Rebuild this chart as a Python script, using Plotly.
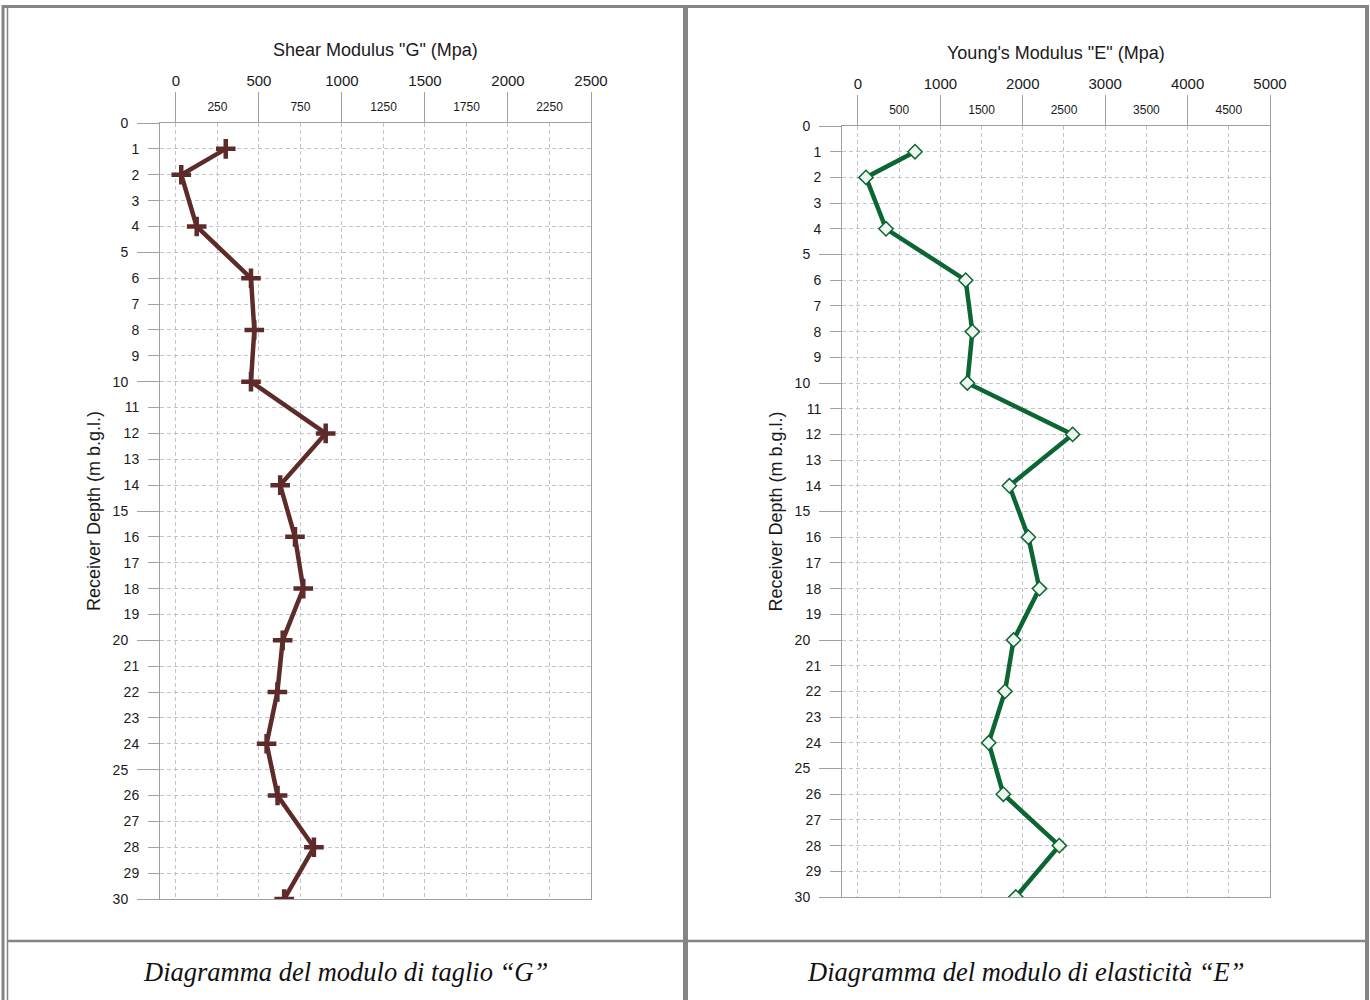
import plotly.graph_objects as go

# Receiver depths (m below ground level) and the moduli measured at each one
depth = [1, 2, 4, 6, 8, 10, 12, 14, 16, 18, 20, 22, 24, 26, 28, 30]
shear_G = [300, 32, 125, 452, 472, 452, 902, 628, 717, 767, 643, 611, 546, 612, 831, 652]
young_E = [692, 97, 340, 1307, 1388, 1327, 2605, 1837, 2068, 2202, 1888, 1784, 1586, 1764, 2443, 1915]

# Tick sets
g_major = [0, 500, 1000, 1500, 2000, 2500]
g_minor = [250, 750, 1250, 1750, 2250]
e_major = [0, 1000, 2000, 3000, 4000, 5000]
e_minor = [500, 1500, 2500, 3500, 4500]
depth_all = list(range(0, 31))
depth_five = [d for d in depth_all if d % 5 == 0]
depth_rest = [d for d in depth_all if d % 5 != 0]

titles = ['Shear Modulus "G" (Mpa)', 'Young\'s Modulus "E" (Mpa)']
captions = ["Diagramma del modulo di taglio “G”", "Diagramma del modulo di elasticità “E”"]
y_title = "Receiver Depth (m b.g.l.)"

W, H = 1370, 1000
FONT = "Liberation Sans, Arial, sans-serif"
SERIF = "Liberation Serif, Times New Roman, serif"
TXT = "#1a1a1a"
AXC = "#a0a0a0"
GRID = "#c4c4c4"
BROWN = "#5e2b2b"
GREEN = "#0c6634"
BORDER = "#858585"


def px(x):
    return x / W


def py(y):
    return 1 - y / H


fig = go.Figure()

fig.add_trace(go.Scatter(
    x=shear_G, y=depth, xaxis="x", yaxis="y", mode="lines+markers",
    line=dict(color=BROWN, width=4.5),
    marker=dict(symbol="cross-thin", size=14, line=dict(color=BROWN, width=4.5)),
    showlegend=False, hoverinfo="x+y",
))
fig.add_trace(go.Scatter(
    x=young_E, y=depth, xaxis="x3", yaxis="y3", mode="lines+markers",
    line=dict(color=GREEN, width=4.5),
    marker=dict(symbol="diamond", size=11, color="#eef6ef", line=dict(color=GREEN, width=1.5)),
    showlegend=False, hoverinfo="x+y",
))
# empty traces so the secondary tick axes get drawn
fig.add_trace(go.Scatter(x=[], y=[], xaxis="x2", yaxis="y2", showlegend=False, hoverinfo="skip"))
fig.add_trace(go.Scatter(x=[], y=[], xaxis="x4", yaxis="y4", showlegend=False, hoverinfo="skip"))


def panel(n, left, right, top, bottom, xmin, xmax, major, minor):
    xa = "xaxis" if n == 1 else f"xaxis{n}"
    ya = "yaxis" if n == 1 else f"yaxis{n}"
    xo = f"xaxis{n + 1}"
    yo = f"yaxis{n + 1}"
    xid = "x" if n == 1 else f"x{n}"
    yid = "y" if n == 1 else f"y{n}"
    dom_x = [px(left), px(right)]
    dom_y = [py(bottom), py(top)]
    grid = dict(gridcolor=GRID, griddash="4px,3px", gridwidth=1)
    fig.layout[xa] = dict(
        domain=dom_x, range=[xmin, xmax], anchor=yid, side="top", automargin=False,
        tickvals=major, ticktext=[str(v) for v in major],
        ticks="outside", ticklen=30, tickcolor=AXC, tickwidth=1,
        tickfont=dict(family=FONT, size=15, color=TXT),
        showline=True, mirror=True, linecolor=AXC, linewidth=1,
        showgrid=True, zeroline=False,
        minor=dict(tickvals=minor, showgrid=True, ticks="", **grid),
        **grid,
    )
    fig.layout[xo] = dict(
        range=[xmin, xmax], overlaying=xid, anchor=yid, side="top", automargin=False,
        tickvals=minor, ticktext=[str(v) for v in minor], ticks="",
        ticklabelstandoff=9,
        tickfont=dict(family=FONT, size=12, color=TXT),
        showgrid=False, showline=False, zeroline=False,
    )
    fig.layout[ya] = dict(
        domain=dom_y, range=[30, 0], anchor=xid, automargin=False,
        tickvals=depth_rest, ticktext=[str(v) for v in depth_rest],
        ticks="outside", ticklen=11, tickcolor=AXC, tickwidth=1,
        ticklabelstandoff=6,
        tickfont=dict(family=FONT, size=14, color=TXT),
        showline=True, mirror=True, linecolor=AXC, linewidth=1,
        showgrid=True, zeroline=False, **grid,
        title=dict(text=y_title, font=dict(family=FONT, size=18, color=TXT), standoff=18),
    )
    fig.layout[yo] = dict(
        range=[30, 0], overlaying=yid, anchor=xid, side="left", automargin=False,
        tickvals=depth_five, ticktext=[str(v) for v in depth_five],
        ticks="outside", ticklen=22, tickcolor=AXC, tickwidth=1,
        ticklabelstandoff=6,
        tickfont=dict(family=FONT, size=14, color=TXT),
        showgrid=True, showline=False, zeroline=False, **grid,
    )


panel(1, 160, 591, 123, 899, -96, 2500, g_major, g_minor)
panel(3, 842, 1270, 126, 897, -194, 5000, e_major, e_minor)

annotations = [
    dict(text=titles[0], x=px(375.5), y=py(50), xref="paper", yref="paper",
         xanchor="center", yanchor="middle", showarrow=False,
         font=dict(family=FONT, size=18, color=TXT)),
    dict(text=titles[1], x=px(1056), y=py(53), xref="paper", yref="paper",
         xanchor="center", yanchor="middle", showarrow=False,
         font=dict(family=FONT, size=18, color=TXT)),
    dict(text=f"<i>{captions[0]}</i>", x=px(345), y=py(972), xref="paper", yref="paper",
         xanchor="center", yanchor="middle", showarrow=False,
         font=dict(family=SERIF, size=26.5, color="#111")),
    dict(text=f"<i>{captions[1]}</i>", x=px(1026), y=py(972), xref="paper", yref="paper",
         xanchor="center", yanchor="middle", showarrow=False,
         font=dict(family=SERIF, size=26.5, color="#111")),
]


def seg(x0, y0, x1, y1, w):
    return dict(type="line", xref="paper", yref="paper",
                x0=px(x0), y0=py(y0), x1=px(x1), y1=py(y1),
                line=dict(color=BORDER, width=w), layer="above")


# Table frame around the two diagrams and their captions
shapes = [
    seg(2, 6.5, 1369, 6.5, 3),
    seg(3, 5, 3, 1000, 3),
    seg(7.5, 7, 7.5, 1000, 1.5),
    seg(685.5, 6, 685.5, 1000, 5),
    seg(7, 941, 1366, 941, 2.5),
    seg(1367, 5, 1367, 1000, 4),
]

fig.update_layout(
    width=W, height=H, margin=dict(l=0, r=0, t=0, b=0, pad=0),
    paper_bgcolor="white", plot_bgcolor="white",
    annotations=annotations, shapes=shapes, showlegend=False,
)

fig.write_html("out.html")
